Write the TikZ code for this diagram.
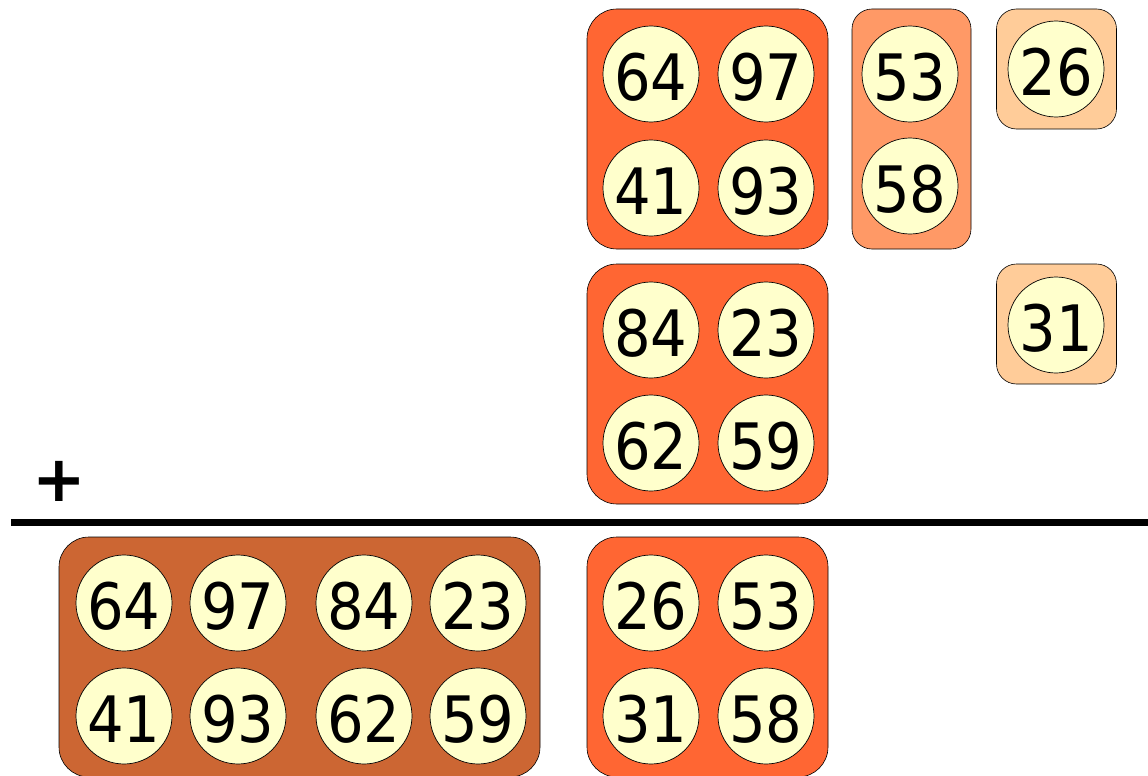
\documentclass[tikz,border=0pt]{standalone}
\usepackage{fontspec}
\setmainfont{DejaVu Sans}
\newfontfamily\ballfont[FakeStretch=0.9]{DejaVu Sans}
\newfontfamily\signfont{DejaVu Sans Bold}
\definecolor{trayred}{HTML}{FF6633}
\definecolor{traysalmon}{HTML}{FF9966}
\definecolor{traypeach}{HTML}{FFCC99}
\definecolor{traybrown}{HTML}{CC6633}
\definecolor{ballfill}{HTML}{FFFFCC}

\begin{document}
\begin{tikzpicture}[x=1pt,y=-1pt]
\tikzset{
  ball/.style={circle,draw=black,line width=0.7pt,fill=ballfill,minimum size=96pt,inner sep=0pt,text height=52pt,text depth=0pt,font=\ballfont\fontsize{64}{64}\selectfont},
  tray/.style={rectangle,draw=black,line width=0.6pt,inner sep=0pt,rounded corners=30pt},
  smalltray/.style={tray,rounded corners=20pt},
  sumrule/.style={draw=black,line width=7pt}
}
\useasboundingbox (0,0) rectangle (1148,776);
% trays
\node[tray,fill=trayred,minimum width=241pt,minimum height=240pt] (t_top) at (707.5,129) {};
\node[smalltray,fill=traysalmon,minimum width=119pt,minimum height=240pt] (t_pair) at (911.5,129) {};
\node[smalltray,fill=traypeach,minimum width=120pt,minimum height=120pt] (t_one) at (1056.5,69) {};
\node[smalltray,fill=traypeach,minimum width=120pt,minimum height=120pt] (t_two) at (1056.5,324) {};
\node[tray,fill=trayred,minimum width=241pt,minimum height=240pt] (t_mid) at (707.5,384) {};
\node[tray,fill=traybrown,minimum width=481pt,minimum height=240pt] (t_eight) at (299.5,657) {};
\node[tray,fill=trayred,minimum width=241pt,minimum height=240pt] (t_four) at (707.5,657) {};
% balls
\node[ball] (b_64) at (651,74) {64};
\node[ball] (b_97) at (766,74) {97};
\node[ball] (b_41) at (651,188) {41};
\node[ball] (b_93) at (766,188) {93};
\node[ball] (b_53) at (910,74) {53};
\node[ball] (b_58) at (910,186) {58};
\node[ball] (b_26) at (1056,69) {26};
\node[ball] (b_31) at (1056,325) {31};
\node[ball] (b_84) at (651,330) {84};
\node[ball] (b_23) at (766,330) {23};
\node[ball] (b_62) at (651,443) {62};
\node[ball] (b_59) at (766,443) {59};
\node[ball] (s_64) at (124,603) {64};
\node[ball] (s_97) at (238,603) {97};
\node[ball] (s_84) at (364,603) {84};
\node[ball] (s_23) at (478,603) {23};
\node[ball] (s_41) at (124,716) {41};
\node[ball] (s_93) at (238,716) {93};
\node[ball] (s_62) at (364,716) {62};
\node[ball] (s_59) at (478,716) {59};
\node[ball] (s_26) at (651,603) {26};
\node[ball] (s_53) at (766,603) {53};
\node[ball] (s_31) at (651,716) {31};
\node[ball] (s_58) at (766,716) {58};
% sum sign and rule
\node[inner sep=0pt,font=\signfont\fontsize{64}{64}\selectfont] (plus) at (59,481) {+};
\coordinate (rule_l) at (11,522);
\coordinate (rule_r) at (1148,522);
\draw[sumrule] (rule_l) -- (rule_r);
\end{tikzpicture}
\end{document}
